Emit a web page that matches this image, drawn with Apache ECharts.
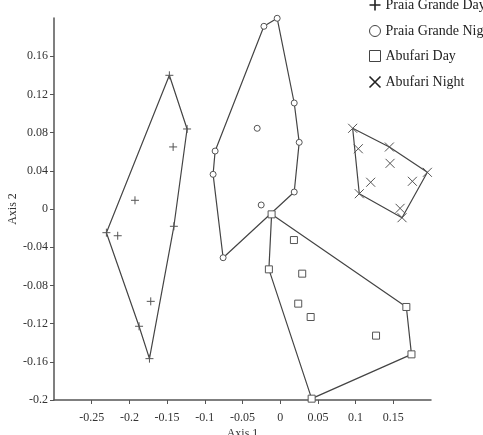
<!DOCTYPE html>
<html>
<head>
<meta charset="utf-8">
<script src="https://cdn.jsdelivr.net/npm/echarts@6/dist/echarts.min.js"></script>
<style>
  html, body { margin: 0; padding: 0; background: #fff; }
  #main { width: 483px; height: 435px; }
</style>
</head>
<body>
<div id="main"></div>
<script>
// points [axis1, axis2]
const praiaDay = [
  [-0.147, 0.140], [-0.1235, 0.0838], [-0.142, 0.065], [-0.1926, 0.0091],
  [-0.2305, -0.0248], [-0.2155, -0.028], [-0.141, -0.0181], [-0.1717, -0.0967],
  [-0.1872, -0.1228], [-0.1734, -0.1567]
]
const praiaNight = [
  [-0.004, 0.1997], [-0.0216, 0.1913], [0.0186, 0.111], [-0.0305, 0.0845],
  [0.0252, 0.0698], [-0.0863, 0.0607], [-0.089, 0.0363], [0.0186, 0.0178],
  [-0.0252, 0.0042], [-0.0757, -0.051]
]
const abufariDay = [
  [-0.0114, -0.0056], [0.0182, -0.0325], [-0.015, -0.0632], [0.0292, -0.0677],
  [0.0239, -0.0991], [0.0404, -0.1131], [0.1673, -0.1026], [0.1271, -0.1326],
  [0.1741, -0.1522], [0.0417, -0.1986]
]
const abufariNight = [
  [0.0961, 0.0845], [0.1036, 0.0631], [0.1448, 0.0649], [0.1457, 0.0478],
  [0.1952, 0.0384], [0.12, 0.028], [0.1753, 0.029], [0.1049, 0.016],
  [0.159, 0.0007], [0.1616, -0.0091]
]
// convex hull vertex order (indices into the arrays above)
const praiaDayHull = [0, 1, 6, 9, 8, 4, 0]
const praiaNightHull = [0, 2, 4, 7, 9, 6, 5, 1, 0]
const abufariDayHull = [0, 6, 8, 9, 2, 0]
const abufariNightHull = [0, 2, 4, 9, 7, 0]

const names = ['Praia Grande Day', 'Praia Grande Night', 'Abufari Day', 'Abufari Night']

const plusPath = 'path://M0,5L10,5M5,0L5,10'
const crossPath = 'path://M0,0L10,10M10,0L0,10'

const serif = '"Liberation Serif", "DejaVu Serif", serif'
const ink = '#444'

function hullSeries (pts, idx) {
  return {
    type: 'line',
    data: idx.map(i => pts[i]),
    symbol: 'none',
    silent: true,
    lineStyle: { color: ink, width: 1.2 },
    z: 1
  }
}

function pointSeries (name, pts, symbol, size) {
  return {
    name: name,
    type: 'scatter',
    data: pts,
    symbol: symbol,
    symbolSize: size,
    itemStyle: { color: '#fff', borderColor: '#555', borderWidth: 1, opacity: 1 },
    z: 3
  }
}

const chart = echarts.init(document.getElementById('main'))
chart.setOption({
  animation: false,
  backgroundColor: '#fff',
  grid: { left: 54, right: 52, top: 18, bottom: 35, outerBoundsMode: 'none', containLabel: false },
  legend: {
    orient: 'vertical',
    left: 362,
    top: -8,
    itemWidth: 11,
    itemHeight: 11,
    itemGap: 11,
    selectedMode: false,
    textStyle: { fontFamily: serif, fontSize: 14, color: '#222' },
    data: [
      { name: names[0], icon: plusPath, itemStyle: { color: 'none', borderColor: '#222', borderWidth: 1.6 } },
      { name: names[1], icon: 'circle', itemStyle: { color: '#fff', borderColor: '#444', borderWidth: 1 } },
      { name: names[2], icon: 'rect', itemStyle: { color: '#fff', borderColor: '#444', borderWidth: 1 } },
      { name: names[3], icon: crossPath, itemStyle: { color: 'none', borderColor: '#222', borderWidth: 1.6 } }
    ]
  },
  xAxis: {
    type: 'value',
    min: -0.3,
    max: 0.2,
    interval: 0.05,
    name: 'Axis 1',
    nameLocation: 'middle',
    nameGap: 28,
    nameMoveOverlap: false,
    nameTextStyle: { fontFamily: serif, fontSize: 12, color: '#333' },
    splitLine: { show: false },
    axisLine: { onZero: false, lineStyle: { color: '#555', width: 1.5 } },
    axisTick: { length: 4, lineStyle: { color: '#555' } },
    axisLabel: { showMinLabel: false, showMaxLabel: false, margin: 12, fontFamily: serif, fontSize: 12, color: '#333' }
  },
  yAxis: {
    type: 'value',
    min: -0.2,
    max: 0.2,
    interval: 0.04,
    name: 'Axis 2',
    nameLocation: 'middle',
    nameGap: 35,
    nameMoveOverlap: false,
    nameTextStyle: { fontFamily: serif, fontSize: 12, color: '#333' },
    splitLine: { show: false },
    axisLine: { onZero: false, lineStyle: { color: '#555', width: 1.5 } },
    axisTick: { length: 4, lineStyle: { color: '#555' } },
    axisLabel: { showMaxLabel: false, margin: 6, fontFamily: serif, fontSize: 12, color: '#333' }
  },
  series: [
    hullSeries(praiaDay, praiaDayHull),
    hullSeries(praiaNight, praiaNightHull),
    hullSeries(abufariDay, abufariDayHull),
    hullSeries(abufariNight, abufariNightHull),
    pointSeries(names[0], praiaDay, plusPath, 8),
    pointSeries(names[1], praiaNight, 'circle', 6),
    pointSeries(names[2], abufariDay, 'rect', 7),
    pointSeries(names[3], abufariNight, crossPath, 9)
  ]
})
</script>
</body>
</html>
